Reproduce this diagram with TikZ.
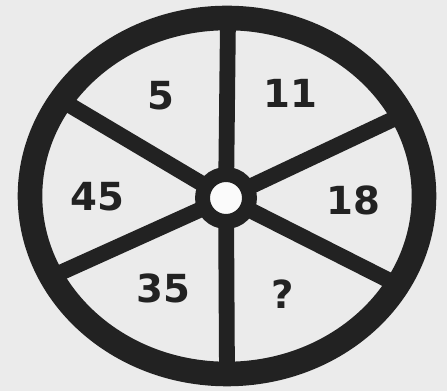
\documentclass[tikz,border=0pt]{standalone}
\usepackage{fontspec}
\setmainfont{DejaVu Sans}
\definecolor{ink}{HTML}{222222}
\definecolor{paper}{HTML}{EBEBEB}

\tikzset{
  num/.style={font=\bfseries\fontsize{22}{26}\selectfont, text=ink},
  spoke/.style={draw=ink, line width=9pt},
}

\begin{document}
\begin{tikzpicture}[x=0.02cm, y=-0.02cm]

% Background
\fill[paper] (0,0) rectangle (447,391);
\useasboundingbox (0,0) rectangle (447,391);

% Rim points
\coordinate (top)   at (228,18);
\coordinate (bot)   at (227,374);
\coordinate (ul)    at (61,100);
\coordinate (ur)    at (402,115);
\coordinate (ll)    at (51,277);
\coordinate (lr)    at (398,285);

% Hub
\node[circle, inner sep=0pt, minimum size=0.94cm] (hub) at (226,198) {};

% Spokes
\draw[spoke] (hub.center) -- (top);
\draw[spoke] (hub.center) -- (bot);
\draw[spoke] (hub.center) -- (ul);
\draw[spoke] (hub.center) -- (ur);
\draw[spoke] (hub.center) -- (ll);
\draw[spoke] (hub.center) -- (lr);

% Rim
\draw[ink, line width=14pt] (227,196) ellipse [x radius=197, y radius=178];

% Hub ring
\draw[ink, fill=white!80!paper, line width=8.5pt] (hub.center) circle (0.47cm);

% Numbers
\node[num] (n5)  at (161,96)  {5};
\node[num] (n11) at (290,93)  {11};
\node[num] (n45) at (97,197)  {45};
\node[num] (n18) at (353,200) {18};
\node[num] (n35) at (163,288) {35};
\node[num] (nq)  at (283,294) {?};

\end{tikzpicture}
\end{document}
